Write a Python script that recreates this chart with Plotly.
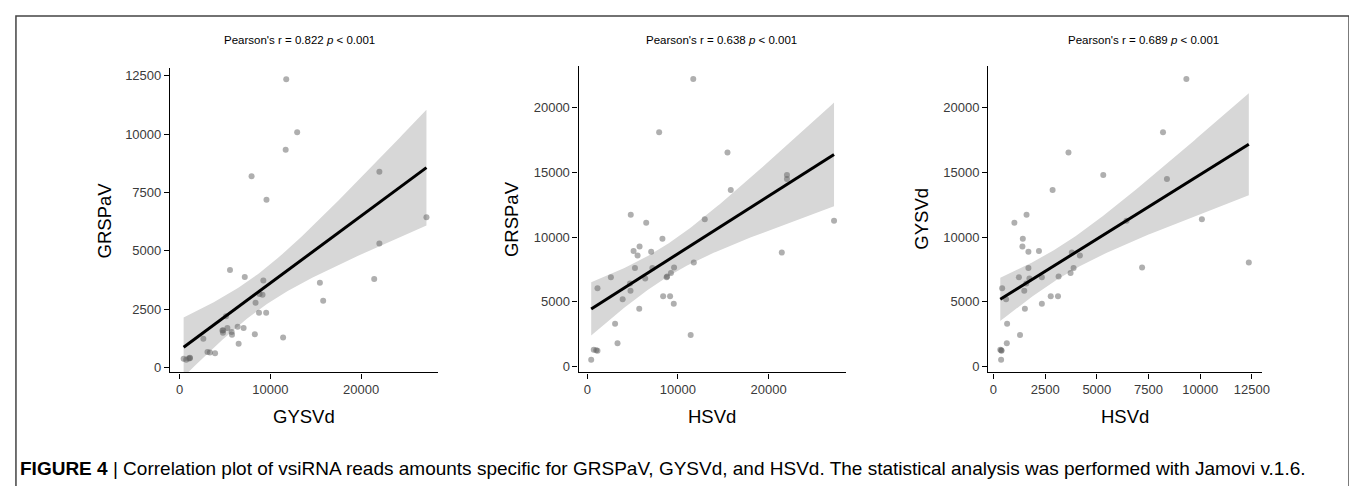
import numpy as np
import plotly.graph_objects as go

# ---- data (one entry per sample) ----
gysvd_reads = [438, 720, 990, 1130, 1130, 2610, 3070, 3340, 3905, 4713,
               4770, 4800, 5110, 5263, 5550, 5733, 5770, 6393, 6503, 7050,
               7180, 7930, 8290, 8368, 8750, 8810, 9135, 9228, 9540, 9574,
               11405, 11690, 11750, 12957, 15462, 15824, 21450, 22020, 22020, 27210]
grspav_reads = [370, 330, 380, 390, 420, 1230, 660, 645, 610, 1586,
                1490, 1600, 2200, 1690, 4180, 1520, 1400, 1740, 1012, 1690,
                3875, 8200, 1420, 2770, 2340, 3150, 3120, 3730, 2340, 7188,
                1285, 9330, 12350, 10080, 3628, 2860, 3790, 5311, 8390, 6434]
hsvd_reads = [515, 1300, 1262, 1208, 6054, 6900, 3300, 1800, 5200, 6415,
              5846, 11723, 8923, 7615, 8580, 4462, 9285, 6810, 11108, 8880,
              7615, 18108, 9877, 5438, 6900, 6950, 5438, 7231, 4846, 7646,
              2438, 22231, 8040, 11385, 16538, 13646, 8810, 14800, 14492, 11262]

panel_titles = ["Pearson's r = 0.822 <i>p</i> &lt; 0.001",
                "Pearson's r = 0.638 <i>p</i> &lt; 0.001",
                "Pearson's r = 0.689 <i>p</i> &lt; 0.001"]
x_titles = ["GYSVd", "HSVd", "HSVd"]
y_titles = ["GRSPaV", "GRSPaV", "GYSVd"]
x_ticks = [[0, 10000, 20000], [0, 10000, 20000], [0, 2500, 5000, 7500, 10000, 12500]]
y_ticks = [[0, 2500, 5000, 7500, 10000, 12500], [0, 5000, 10000, 15000, 20000],
           [0, 5000, 10000, 15000, 20000]]
panel_x = [gysvd_reads, gysvd_reads, grspav_reads]
panel_y = [grspav_reads, hsvd_reads, hsvd_reads]

caption = ("<b>FIGURE 4</b> | Correlation plot of vsiRNA reads amounts specific for GRSPaV, "
           "GYSVd, and HSVd. The statistical analysis was performed with Jamovi v.1.6.")

# ---- layout geometry (pixels) ----
W, H = 1357, 486
FONT = "Liberation Sans, Arial, sans-serif"
plot_px = [(163, 432.7, 60, 366.7), (574, 842.7, 58, 366.7), (986, 1261.7, 58, 366.7)]
x_ranges = [[-1060, 28500], [-950, 28500], [-255, 13000]]
y_ranges = [[-213, 12850], [-460, 23260], [-460, 23260]]
title_cx = [293.5, 717.5, 1142.5]
ytitle_cx = [97, 506, 918]
T_CRIT = 2.024  # t(0.975, df=38)

fig = go.Figure()
annotations = []

for i in range(3):
    x = np.array(panel_x[i], dtype=float)
    y = np.array(panel_y[i], dtype=float)
    xa = "x" if i == 0 else f"x{i+1}"
    ya = "y" if i == 0 else f"y{i+1}"

    # linear fit and 95% confidence band
    b, a = np.polyfit(x, y, 1)
    n = len(x)
    xs = np.linspace(x.min(), x.max(), 120)
    yh = a + b * xs
    s = np.sqrt(np.sum((y - (a + b * x)) ** 2) / (n - 2))
    sxx = np.sum((x - x.mean()) ** 2)
    se = s * np.sqrt(1 / n + (xs - x.mean()) ** 2 / sxx)
    upper = yh + T_CRIT * se
    lower = yh - T_CRIT * se

    fig.add_trace(go.Scatter(x=np.concatenate([xs, xs[::-1]]),
                             y=np.concatenate([upper, lower[::-1]]),
                             fill="toself", fillcolor="rgb(215,215,215)",
                             line=dict(width=0), mode="lines", hoverinfo="skip",
                             showlegend=False, xaxis=xa, yaxis=ya))
    fig.add_trace(go.Scatter(x=x, y=y, mode="markers",
                             marker=dict(size=6, color="rgba(95,95,95,0.5)", line=dict(width=0)),
                             showlegend=False, xaxis=xa, yaxis=ya))
    fig.add_trace(go.Scatter(x=xs, y=yh, mode="lines", line=dict(color="black", width=3),
                             showlegend=False, xaxis=xa, yaxis=ya))

    x0, x1, y0, y1 = plot_px[i]
    axis_common = dict(showline=True, linecolor="black", linewidth=1.3, ticks="outside",
                       ticklen=5, tickwidth=1.3, tickcolor="black", showgrid=False,
                       zeroline=False, tickformat="d",
                       tickfont=dict(family=FONT, size=13, color="#3a3a3a"))
    fig.update_layout(**{
        ("xaxis" if i == 0 else f"xaxis{i+1}"): dict(
            domain=[x0 / W, x1 / W], range=x_ranges[i], tickvals=x_ticks[i],
            anchor=ya, **axis_common),
        ("yaxis" if i == 0 else f"yaxis{i+1}"): dict(
            domain=[1 - y1 / H, 1 - y0 / H], range=y_ranges[i], tickvals=y_ticks[i],
            anchor=xa, **axis_common),
    })

    annotations.append(dict(text=panel_titles[i], x=title_cx[i] / W, y=1 - 32 / H,
                            xref="paper", yref="paper", showarrow=False,
                            xanchor="center", yanchor="middle",
                            font=dict(family=FONT, size=11.5, color="black")))
    annotations.append(dict(text=x_titles[i], x=(x0 + x1) / 2 / W, y=1 - 411 / H,
                            xref="paper", yref="paper", showarrow=False,
                            xanchor="center", yanchor="middle",
                            font=dict(family=FONT, size=18.5, color="black")))
    annotations.append(dict(text=y_titles[i], x=ytitle_cx[i] / W, y=1 - (y0 + y1) / 2 / H,
                            xref="paper", yref="paper", showarrow=False, textangle=-90,
                            xanchor="center", yanchor="middle",
                            font=dict(family=FONT, size=18.5, color="black")))

annotations.append(dict(text=caption, x=10 / W, y=1 - 463 / H, xref="paper", yref="paper",
                        xanchor="left", yanchor="middle", showarrow=False,
                        font=dict(family=FONT, size=19, color="black")))

fig.update_layout(
    width=W, height=H, margin=dict(l=0, r=0, t=0, b=0),
    paper_bgcolor="white", plot_bgcolor="white",
    annotations=annotations,
    shapes=[dict(type="rect", xref="paper", yref="paper", x0=8 / W, x1=1349 / W,
                 y0=-0.2, y1=1 - 8 / H, line=dict(color="#444", width=1.5))],
)

fig.write_html("out.html")
